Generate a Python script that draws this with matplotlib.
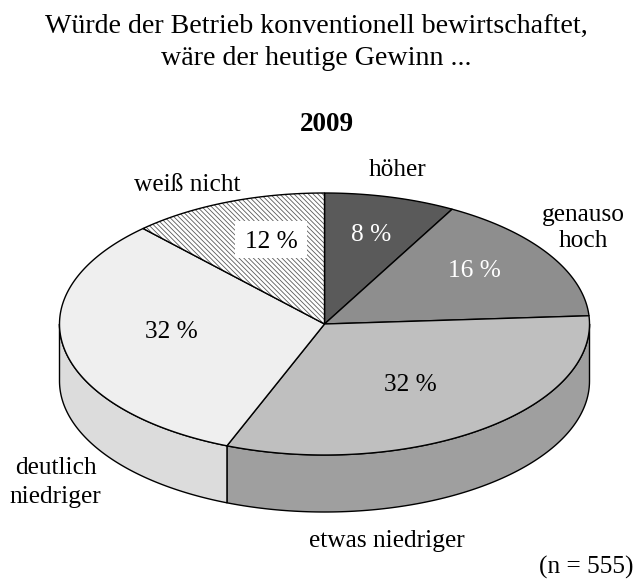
import numpy as np
import matplotlib
matplotlib.use("Agg")
import matplotlib.pyplot as plt
from matplotlib.patches import Polygon, Rectangle

plt.rcParams['font.family'] = ['Liberation Serif', 'DejaVu Serif']
plt.rcParams['hatch.linewidth'] = 0.6

# clockwise from 12 o'clock
values = [8, 16, 32, 32, 12]
valueLabels = ["8 %", "16 %", "32 %", "32 %", "12 %"]
topColors = ["#5a5a5a", "#8e8e8e", "#bfbfbf", "#efefef", "white"]
sideColors = ["#4a4a4a", "#6e6e6e", "#9f9f9f", "#dcdcdc", "white"]

cx, cy = 324.5, 324
rx, ry = 265, 131
depth = 57

def edge(angle):
    # angle in degrees clockwise from the top
    a = np.radians(angle)
    return cx + rx * np.sin(a), cy - ry * np.cos(a)

def label(x, y, s, size=18.3, color='black', weight='normal'):
    ax.text(x, y, s, fontsize=size, color=color, fontweight=weight, ha='center', va='baseline')

fig = plt.figure(figsize=(6.36, 5.80), dpi=100)
ax = fig.add_axes([0, 0, 1, 1])
ax.set_xlim(0, 636)
ax.set_ylim(580, 0)
ax.axis('off')

bounds = np.cumsum([0] + values) * 3.6

# side wall, only the front half (90..270 deg) can be seen
for i in range(len(values)):
    start = max(bounds[i], 90)
    end = min(bounds[i + 1], 270)
    if end <= start:
        continue
    t = np.linspace(start, end, 120)
    x, y = edge(t)
    pts = np.vstack([np.column_stack([x, y]),
                     np.column_stack([x[::-1], y[::-1] + depth])])
    ax.add_patch(Polygon(pts, closed=True, facecolor=sideColors[i], edgecolor='black', linewidth=1.0, joinstyle='round'))

# top face
for i in range(len(values)):
    t = np.linspace(bounds[i], bounds[i + 1], 150)
    x, y = edge(t)
    pts = np.vstack([[cx, cy], np.column_stack([x, y])])
    if i == 4:
        ax.add_patch(Polygon(pts, closed=True, facecolor='white', edgecolor='#5a5a5a', hatch='\\' * 7, linewidth=0))
        ax.add_patch(Polygon(pts, closed=True, fill=False, edgecolor='black', linewidth=1.0))
    else:
        ax.add_patch(Polygon(pts, closed=True, facecolor=topColors[i], edgecolor='black', linewidth=1.0))

# white box behind the 12 %
ax.add_patch(Rectangle((235, 221), 72, 37, facecolor='white', edgecolor='none', zorder=3))

label(371, 241, valueLabels[0], color='white')
label(474.5, 277, valueLabels[1], color='white')
label(410, 391, valueLabels[2])
label(171, 338, valueLabels[3])
label(271, 248, valueLabels[4])

# category labels
label(397.5, 176, "höher")
label(583, 221, "genauso")
label(583, 247, "hoch")
label(387, 547, "etwas niedriger")
label(56, 474, "deutlich")
label(55.5, 503, "niedriger")
label(187, 191, "weiß nicht")

label(316, 33, "Würde der Betrieb konventionell bewirtschaftet,", size=20.2)
label(316, 65, "wäre der heutige Gewinn ...", size=20.2)
label(327, 131, "2009", size=19.5, weight='bold')
label(586, 574, "(n = 555)")

fig.savefig("out.png", dpi=100)
